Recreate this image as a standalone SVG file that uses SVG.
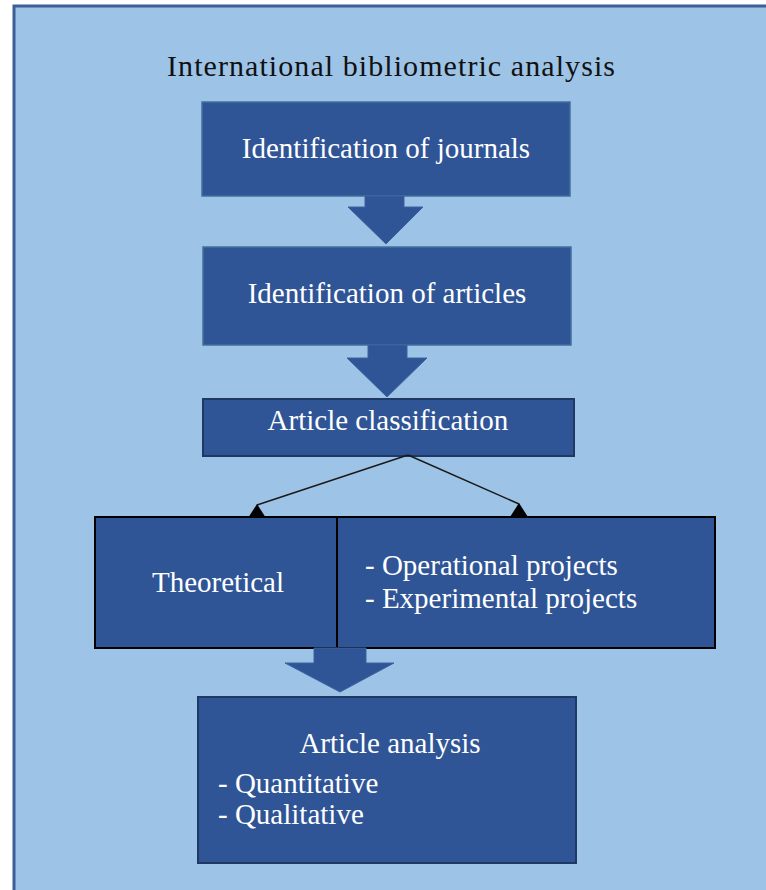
<svg xmlns="http://www.w3.org/2000/svg" width="766" height="890" viewBox="0 0 766 890">
  <defs>
    <style>
      .box { fill: #2f5597; stroke: #41719c; stroke-width: 1.5; }
      .dark { fill: #2f5597; stroke: #1f3864; stroke-width: 2; }
      .black { fill: #2f5597; stroke: #000000; stroke-width: 2; }
      .blk { fill: #2f5597; stroke: #3a64a0; stroke-width: 1; }
      .t { font-family: "Liberation Serif", "Times New Roman", serif; font-size: 29px; fill: #ffffff; }
      .c { text-anchor: middle; }
      .title { font-family: "Liberation Serif", "Times New Roman", serif; font-size: 30px; fill: #111111; text-anchor: middle; }
      .conn { stroke: #1a1a1a; stroke-width: 1.5; fill: none; }
    </style>
    <marker id="tri" markerUnits="userSpaceOnUse" markerWidth="18" markerHeight="14" viewBox="0 0 18 14" refX="9" refY="1" orient="0">
      <path d="M0,14 L9,0 L18,14 Z" fill="#000000"/>
    </marker>
  </defs>

  <rect x="0" y="0" width="766" height="890" fill="#ffffff"/>
  <rect id="frame" x="14" y="6" width="800" height="900" fill="#9dc3e6" stroke="#3b5f96" stroke-width="3"/>

  <text class="title" x="391" y="76" textLength="448">International bibliometric analysis</text>

  <g id="node-journals">
    <rect class="box" x="202" y="102" width="368" height="94"/>
    <text class="t c" x="386" y="158">Identification of journals</text>
  </g>

  <g id="node-articles">
    <rect class="box" x="203" y="247" width="368" height="98"/>
    <text class="t c" x="387" y="303">Identification of articles</text>
  </g>

  <g id="node-classification">
    <rect class="dark" x="203" y="399" width="371" height="57"/>
    <text class="t c" x="388" y="430">Article classification</text>
  </g>

  <g id="node-theoretical">
    <rect class="black" x="95" y="517" width="242" height="131"/>
    <text class="t c" x="218" y="592">Theoretical</text>
  </g>

  <g id="node-projects">
    <rect class="black" x="337" y="517" width="378" height="131"/>
    <text class="t" x="365" y="575">- Operational projects</text>
    <text class="t" x="365" y="608">- Experimental projects</text>
  </g>

  <g id="node-analysis">
    <rect class="dark" x="198" y="697" width="378" height="166"/>
    <text class="t c" x="390" y="753">Article analysis</text>
    <text class="t" x="218" y="793">- Quantitative</text>
    <text class="t" x="218" y="824">- Qualitative</text>
  </g>

  <g id="connectors">
    <path class="blk" d="M365,196 L404,196 L404,207 L423,207 L386,244 L348,207 L365,207 Z"/>
    <path class="blk" d="M368,345 L407,345 L407,358 L427,358 L387,397 L347,358 L368,358 Z"/>
    <path class="blk" d="M314,648 L366,648 L366,663 L394,663 L340,692 L285,663 L314,663 Z"/>
    <line class="conn" x1="408" y1="455" x2="257" y2="505" marker-end="url(#tri)"/>
    <line class="conn" x1="408" y1="455" x2="519" y2="504" marker-end="url(#tri)"/>
  </g>
</svg>
